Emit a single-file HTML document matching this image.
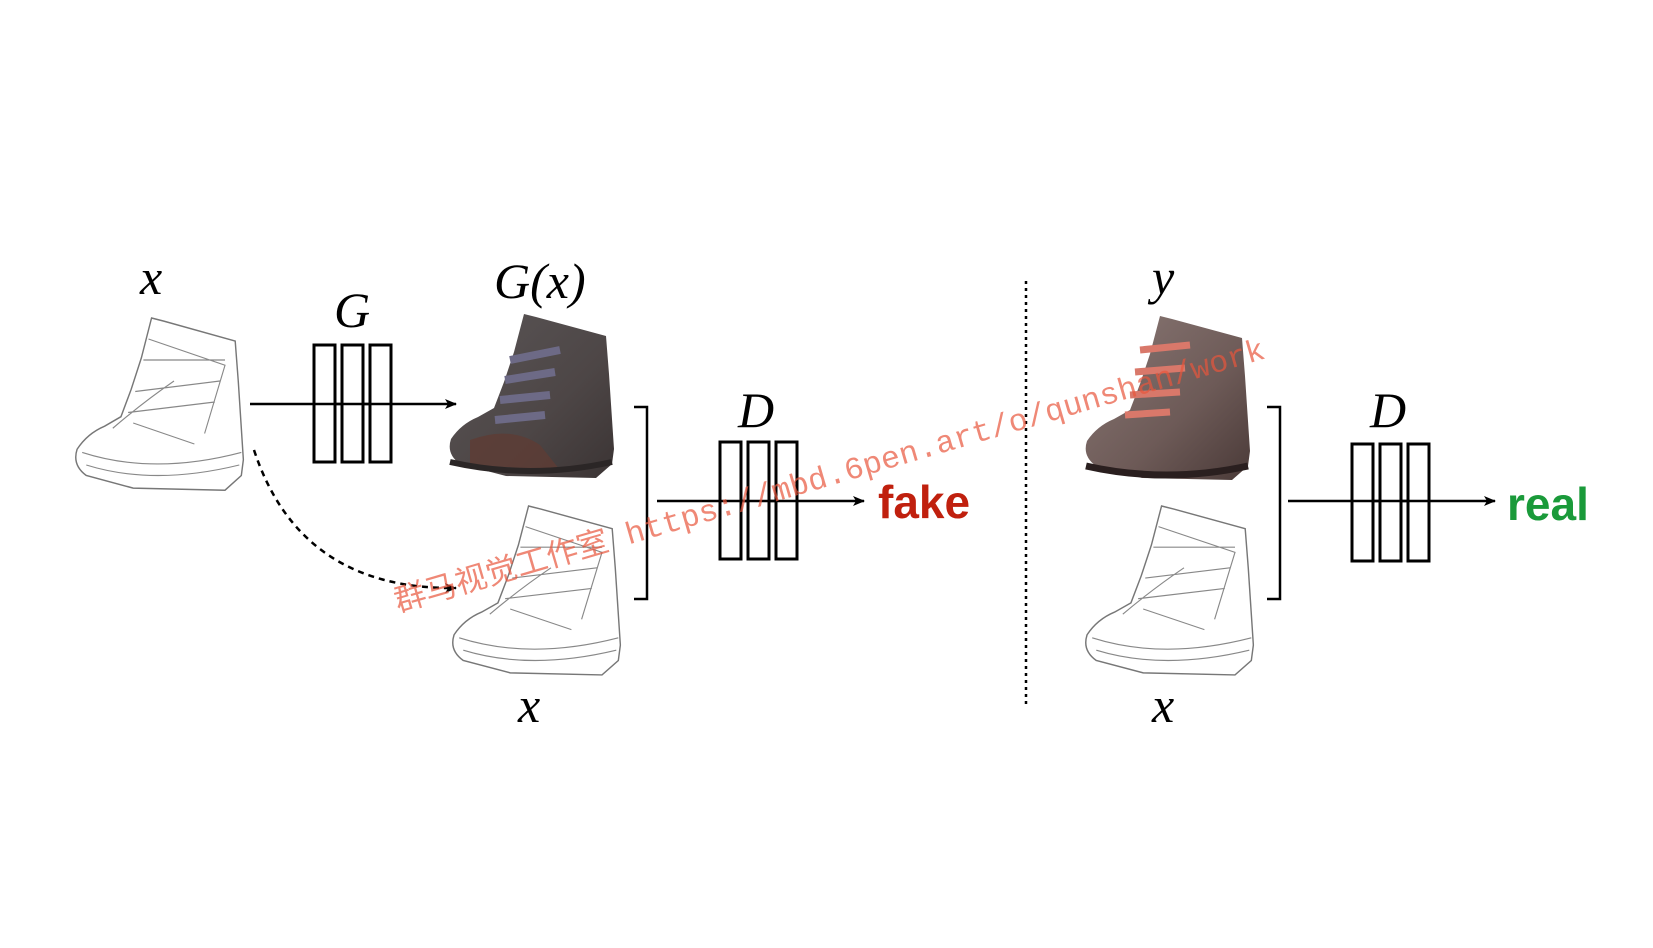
<!DOCTYPE html>
<html><head><meta charset="utf-8"><style>
html,body{margin:0;padding:0;background:#fff;}
svg{display:block;}
.m{font-family:"Liberation Serif",serif;font-style:italic;font-size:50px;fill:#000;}
</style></head><body>
<svg width="1653" height="948" viewBox="0 0 1653 948">
<defs>
<marker id="ah" markerWidth="12" markerHeight="10" refX="11" refY="5" orient="auto" markerUnits="userSpaceOnUse"><path d="M0,0 L12,5 L0,10 L3,5 Z" fill="#000"/></marker>
<linearGradient id="gb" x1="0" y1="0" x2="1" y2="1"><stop offset="0" stop-color="#5a5556"/><stop offset="0.6" stop-color="#4d4646"/><stop offset="1" stop-color="#3b3434"/></linearGradient>
<linearGradient id="rb" x1="0" y1="0" x2="1" y2="1"><stop offset="0" stop-color="#8a7875"/><stop offset="0.6" stop-color="#6d5a57"/><stop offset="1" stop-color="#4a3a38"/></linearGradient>
<g id="bootshape"><path d="M78,0 L90,3 L160,22 L163,60 L168,135 L166,150 L150,164 L60,162 L14,150 Q0,140 5,125 Q15,110 32,103 L48,94 L58,68 L68,38 Z"/></g>
<g id="sketch"><path d="M78,0 L90,3 L160,22 L163,60 L168,135 L166,150 L150,164 L60,162 L14,150 Q0,140 5,125 Q15,110 32,103 L48,94 L58,68 L68,38 Z" fill="#fff" stroke="#777" stroke-width="1.4"/>
<path d="M10,128 Q80,150 166,128 M14,140 Q80,160 164,140 M70,40 L150,40 M62,70 L145,60 M55,90 L140,80 M75,20 L150,45 L130,110 M60,100 L120,120 M40,105 Q70,80 100,60" fill="none" stroke="#888" stroke-width="1.1"/></g>
</defs>

<g><use href="#sketch" transform="translate(72,318) scale(1.02,1.05)"/></g>
<text class="m" x="140" y="294">x</text>

<text class="m" x="334" y="327">G</text>
<g fill="#fff" stroke="#000" stroke-width="3">
<line x1="250" y1="404" x2="456" y2="404" stroke-width="2.5" marker-end="url(#ah)"/>
<rect x="314" y="345" width="21" height="117"/><rect x="342" y="345" width="21" height="117"/><rect x="370" y="345" width="21" height="117"/>
<line x1="314" y1="404" x2="391" y2="404" stroke-width="2.5"/>
</g>

<text class="m" x="494" y="298">G(x)</text>
<g><use href="#bootshape" fill="url(#gb)" transform="translate(446,314)"/>
<path d="M470,440 Q510,425 540,445 L560,470 L470,465 Z" fill="#5e3c34" opacity="0.8"/>
<path d="M510,360 L560,350 M505,380 L555,372 M500,400 L550,395 M495,420 L545,415" stroke="#6d6a86" stroke-width="8"/>
<path d="M450,462 Q530,480 612,462" stroke="#2b2626" stroke-width="6" fill="none"/></g>

<g><use href="#sketch" transform="translate(449,506) scale(1.02,1.03)"/></g>
<text class="m" x="518" y="722">x</text>

<path d="M254,450 Q300,590 456,588" fill="none" stroke="#000" stroke-width="2.5" stroke-dasharray="6,5" marker-end="url(#ah)"/>

<path d="M634,407 L647,407 L647,599 L634,599" fill="none" stroke="#000" stroke-width="2.5"/>
<text class="m" x="738" y="427">D</text>
<g fill="#fff" stroke="#000" stroke-width="3">
<line x1="657" y1="501" x2="864" y2="501" stroke-width="2.5" marker-end="url(#ah)"/>
<rect x="720" y="442" width="21" height="117"/><rect x="748" y="442" width="21" height="117"/><rect x="776" y="442" width="21" height="117"/>
<line x1="720" y1="501" x2="797" y2="501" stroke-width="2.5"/>
</g>
<text x="878" y="518" font-family="Liberation Sans, sans-serif" font-weight="bold" font-size="46" fill="#c0200e">fake</text>

<line x1="1026" y1="281" x2="1026" y2="708" stroke="#000" stroke-width="2.5" stroke-dasharray="3,4"/>

<text class="m" x="1152" y="294">y</text>
<g><use href="#bootshape" fill="url(#rb)" transform="translate(1082,316)"/>
<path d="M1140,350 L1190,345 M1135,372 L1185,368 M1130,395 L1180,392 M1125,415 L1170,412" stroke="#d9786a" stroke-width="7"/>
<path d="M1086,466 Q1166,484 1248,466" stroke="#2a1f1f" stroke-width="7" fill="none"/></g>

<g><use href="#sketch" transform="translate(1082,506) scale(1.02,1.03)"/></g>
<text class="m" x="1152" y="722">x</text>

<path d="M1267,407 L1280,407 L1280,599 L1267,599" fill="none" stroke="#000" stroke-width="2.5"/>
<text class="m" x="1370" y="427">D</text>
<g fill="#fff" stroke="#000" stroke-width="3">
<line x1="1288" y1="501" x2="1495" y2="501" stroke-width="2.5" marker-end="url(#ah)"/>
<rect x="1352" y="444" width="21" height="117"/><rect x="1380" y="444" width="21" height="117"/><rect x="1408" y="444" width="21" height="117"/>
<line x1="1352" y1="501" x2="1429" y2="501" stroke-width="2.5"/>
</g>
<text x="1507" y="520" font-family="Liberation Sans, sans-serif" font-weight="bold" font-size="46" fill="#1a9a3a">real</text>

<text transform="translate(398,612) rotate(-16.3)" textLength="905" lengthAdjust="spacingAndGlyphs" font-family="Liberation Mono, 'Noto Sans CJK SC', monospace" font-size="31" fill="#e8553c" fill-opacity="0.7">群马视觉工作室 https://mbd.6pen.art/o/qunshan/work</text>
</svg>
</body></html>
